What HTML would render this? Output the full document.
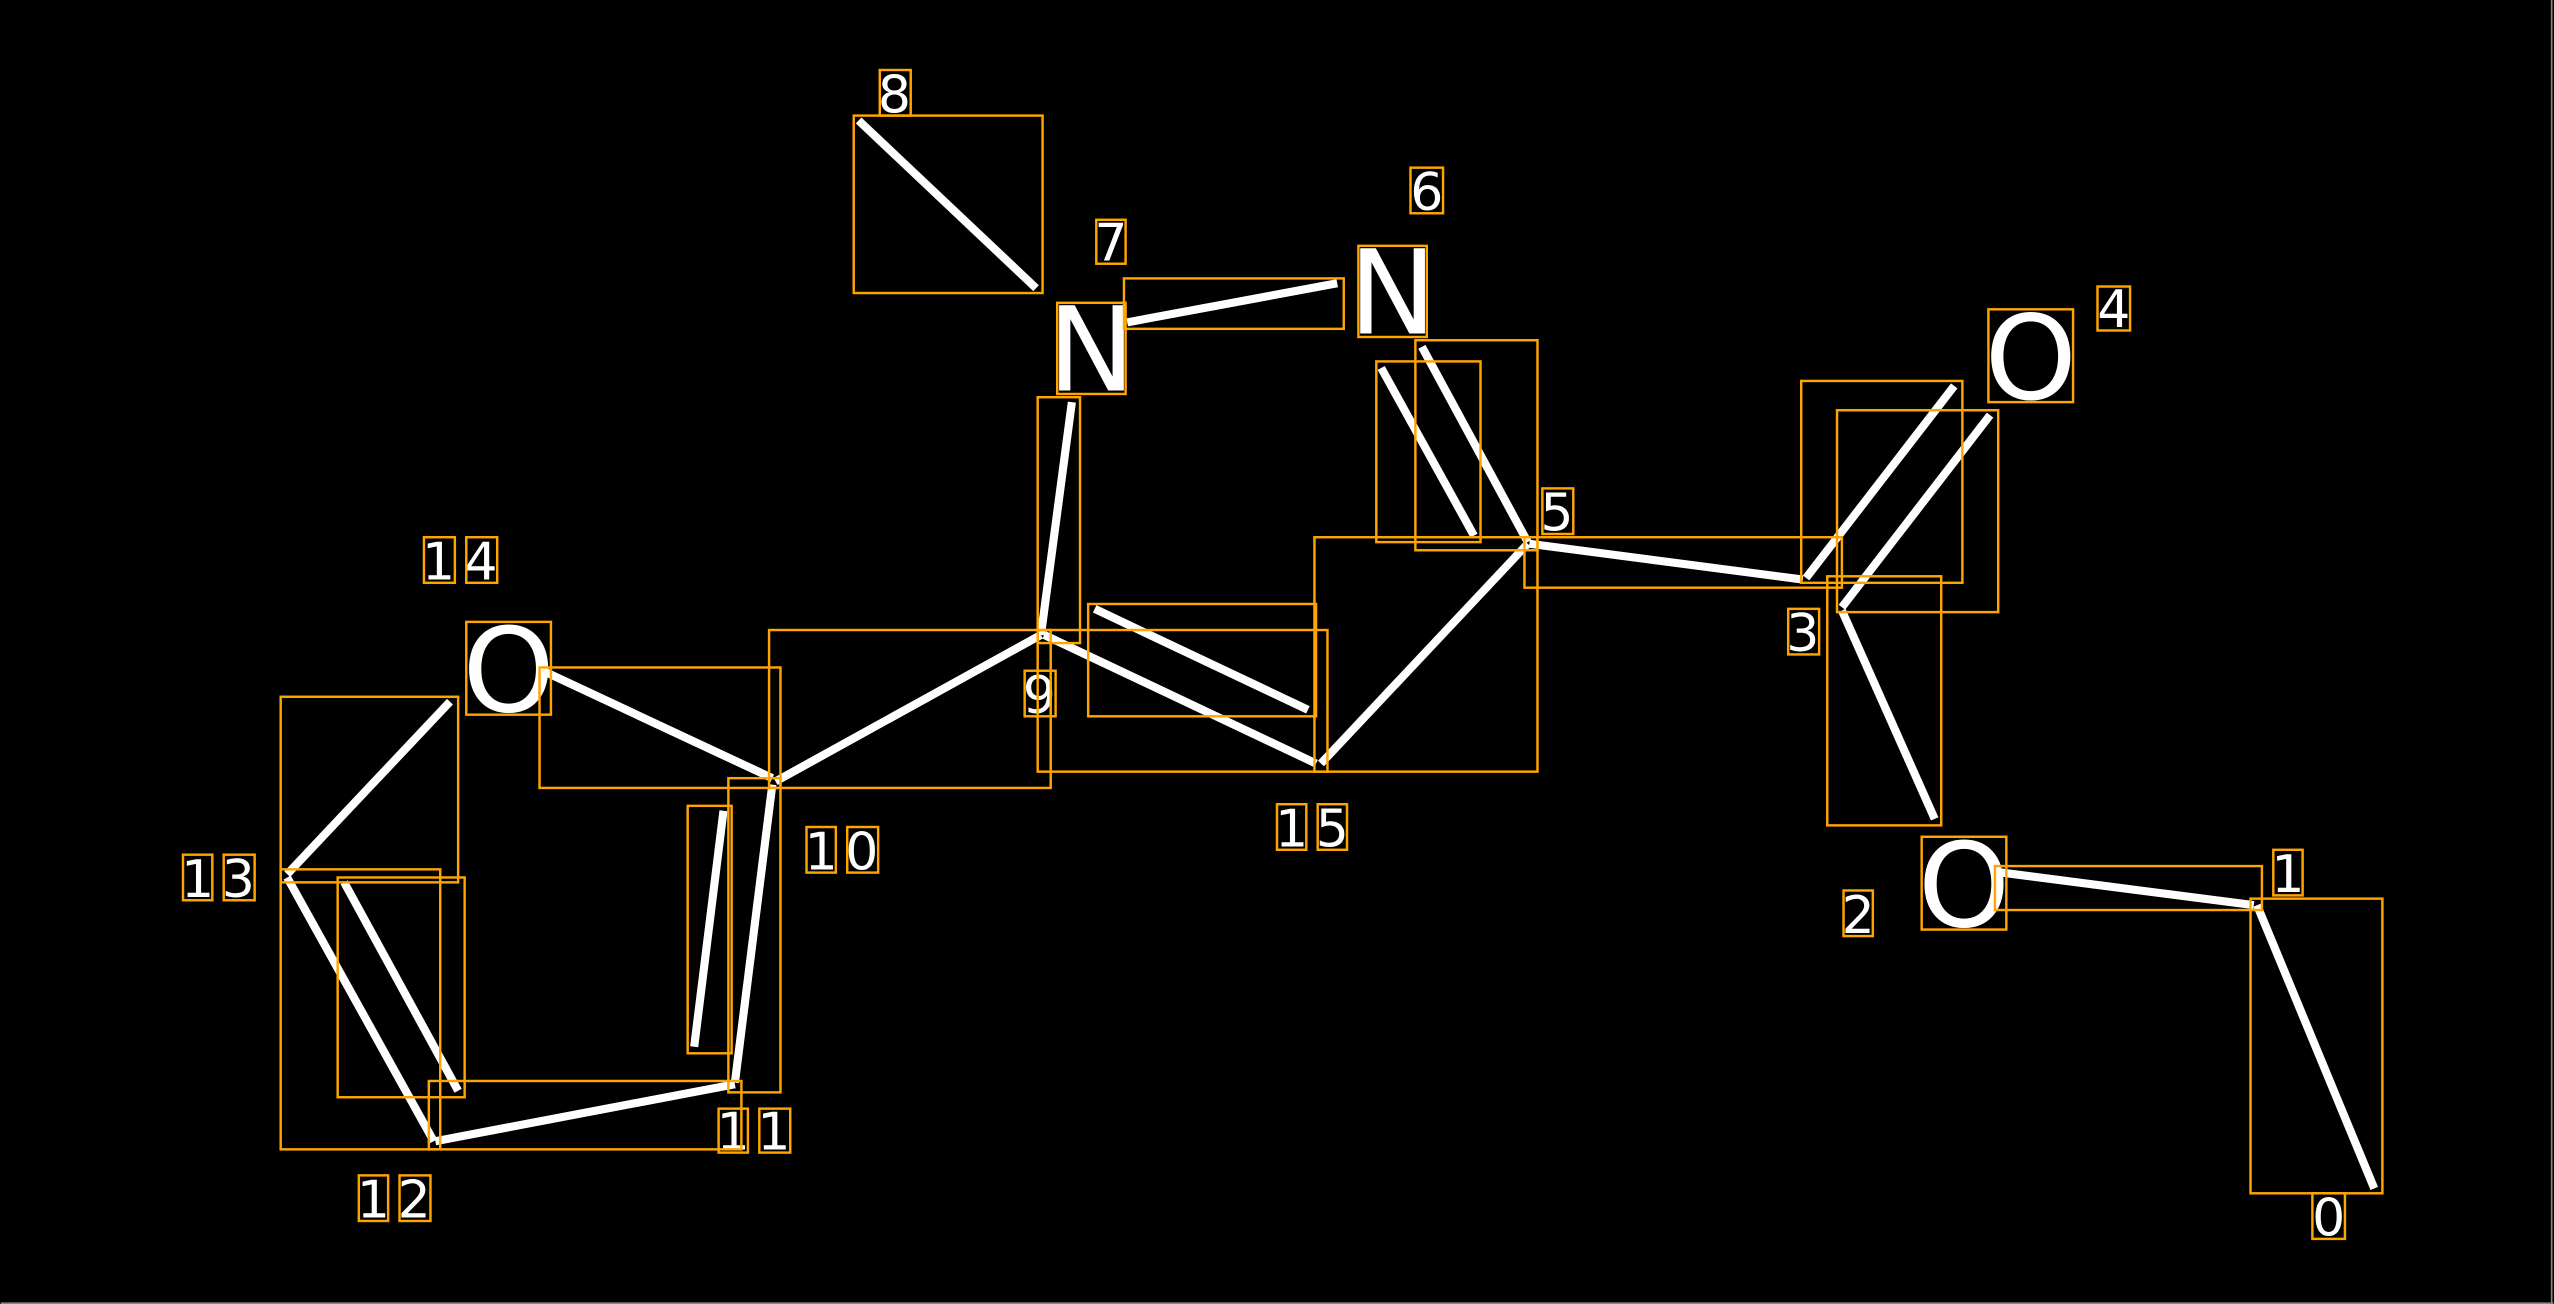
<!DOCTYPE html>
<html><head><meta charset="utf-8"><style>
html,body{margin:0;padding:0;background:#000;width:2554px;height:1304px;overflow:hidden}
svg{display:block}
text{font-family:"DejaVu Sans","Liberation Sans",sans-serif;fill:#fff}
</style></head><body>
<svg width="2554" height="1304" viewBox="0 0 1568 801" xmlns="http://www.w3.org/2000/svg">
<rect x="0" y="0" width="1568" height="801" fill="#000"/>
<g stroke="#fff" stroke-width="5" fill="none" stroke-linecap="butt">
<line x1="527" y1="74" x2="636" y2="177"/>
<line x1="692" y1="198" x2="821" y2="174"/>
<line x1="658" y1="247" x2="639" y2="390"/>
<line x1="873" y1="213" x2="938" y2="333"/>
<line x1="848" y1="226" x2="905" y2="329"/>
<line x1="1109" y1="355" x2="1200" y2="237"/>
<line x1="1131" y1="373" x2="1222" y2="255"/>
<line x1="939" y1="334" x2="1107" y2="356"/>
<line x1="1131" y1="375" x2="1188" y2="503"/>
<line x1="1229" y1="536" x2="1384" y2="556"/>
<line x1="1386" y1="556" x2="1458" y2="730"/>
<line x1="938" y1="334" x2="811" y2="469"/>
<line x1="641" y1="390" x2="808" y2="469"/>
<line x1="672" y1="374" x2="803" y2="436"/>
<line x1="476" y1="480" x2="639" y2="390"/>
<line x1="335" y1="413" x2="474" y2="478"/>
<line x1="474" y1="482" x2="451" y2="665"/>
<line x1="444" y1="498" x2="426" y2="643"/>
<line x1="267" y1="701" x2="451" y2="666"/>
<line x1="176" y1="539" x2="266" y2="701"/>
<line x1="211" y1="542" x2="281" y2="670"/>
<line x1="176" y1="537" x2="276" y2="431"/>
</g>
<g font-size="72">
<text x="670" y="240" text-anchor="middle">N</text>
<text x="855" y="205" text-anchor="middle">N</text>
<text x="1247" y="245" text-anchor="middle">O</text>
<text x="1206" y="569" text-anchor="middle">O</text>
<text x="312" y="437" text-anchor="middle">O</text>
</g>
<g font-size="32" text-anchor="middle">
<text x="1298" y="201">4</text>
<text x="1405" y="548">1</text>
<text x="1430" y="759">0</text>
<text x="1141" y="573">2</text>
<text x="1107" y="400">3</text>
<text x="956" y="326">5</text>
<text x="876" y="129">6</text>
<text x="682" y="160">7</text>
<text x="549" y="69">8</text>
<text x="638" y="438">9</text>
<text x="793" y="520">1</text><text x="818" y="520">5</text>
<text x="504" y="534">1</text><text x="529" y="534">0</text>
<text x="450" y="706">1</text><text x="475" y="706">1</text>
<text x="229" y="748">1</text><text x="254" y="748">2</text>
<text x="121" y="551">1</text><text x="146" y="551">3</text>
<text x="269" y="356">1</text><text x="295" y="356">4</text>
</g>
<g stroke="#ffa500" stroke-width="1.5" fill="none">
<rect x="524" y="71" width="116" height="109"/>
<rect x="690" y="171" width="135" height="31"/>
<rect x="649" y="186" width="42" height="56"/>
<rect x="834" y="151" width="42" height="56"/>
<rect x="637" y="244" width="26" height="151"/>
<rect x="869" y="209" width="75" height="129"/>
<rect x="845" y="222" width="64" height="111"/>
<rect x="1106" y="234" width="99" height="124"/>
<rect x="1128" y="252" width="99" height="124"/>
<rect x="936" y="330" width="195" height="31"/>
<rect x="1122" y="354" width="70" height="153"/>
<rect x="1221" y="190" width="52" height="57"/>
<rect x="1180" y="514" width="52" height="57"/>
<rect x="1225" y="532" width="164" height="27"/>
<rect x="1382" y="552" width="81" height="181"/>
<rect x="807" y="330" width="137" height="144"/>
<rect x="637" y="387" width="178" height="87"/>
<rect x="668" y="371" width="140" height="69"/>
<rect x="472" y="387" width="173" height="97"/>
<rect x="331" y="410" width="148" height="74"/>
<rect x="286" y="382" width="52" height="57"/>
<rect x="447" y="478" width="32" height="193"/>
<rect x="422" y="495" width="27" height="152"/>
<rect x="263" y="664" width="192" height="42"/>
<rect x="172" y="534" width="98" height="172"/>
<rect x="207" y="539" width="78" height="135"/>
<rect x="172" y="428" width="109" height="114"/>
<rect x="1288" y="176" width="20" height="27"/>
<rect x="1396" y="522" width="18" height="28"/>
<rect x="1420" y="733" width="20" height="28"/>
<rect x="1132" y="547" width="18" height="28"/>
<rect x="1098" y="374" width="19" height="28"/>
<rect x="947" y="300" width="19" height="28"/>
<rect x="866" y="103" width="20" height="28"/>
<rect x="673" y="135" width="18" height="27"/>
<rect x="540" y="43" width="19" height="28"/>
<rect x="629" y="412" width="19" height="28"/>
<rect x="784" y="494" width="18" height="28"/><rect x="809" y="494" width="18" height="28"/>
<rect x="495" y="508" width="18" height="28"/><rect x="520" y="508" width="19" height="28"/>
<rect x="441" y="681" width="18" height="27"/><rect x="466" y="681" width="19" height="27"/>
<rect x="220" y="722" width="18" height="28"/><rect x="245" y="722" width="19" height="28"/>
<rect x="112" y="525" width="18" height="28"/><rect x="137" y="525" width="19" height="28"/>
<rect x="260" y="330" width="19" height="28"/><rect x="286" y="330" width="19" height="28"/>
</g>
<line x1="1567" y1="0" x2="1567" y2="801" stroke="#888" stroke-width="1"/>
<line x1="0" y1="800.5" x2="1568" y2="800.5" stroke="#888" stroke-width="1"/>
</svg>
</body></html>
